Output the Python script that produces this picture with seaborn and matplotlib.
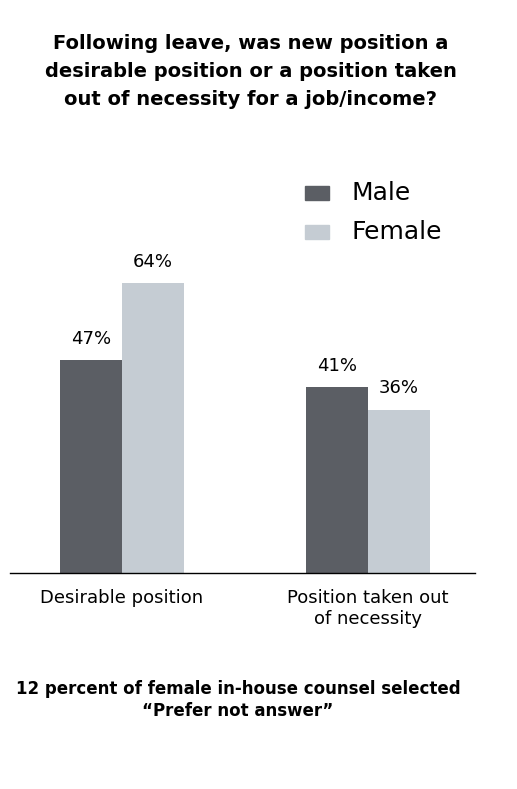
import pandas as pd
import matplotlib
matplotlib.use('Agg')
import matplotlib.pyplot as plt
import seaborn as sns

categories = ["Desirable position", "Position taken out\nof necessity"]
male = [47, 41]
female = [64, 36]
genders = ["Male", "Female"]
colors = ["#5b5e64", "#c5ccd3"]

df = pd.DataFrame({
    "cat": categories * 2,
    "gender": ["Male"] * 2 + ["Female"] * 2,
    "pct": male + female,
})

sns.set_theme(style="white")
plt.rcParams['font.family'] = ['Liberation Sans Narrow', 'DejaVu Sans']
plt.rcParams['text.color'] = 'black'
plt.rcParams['xtick.color'] = 'black'

fig = plt.figure(figsize=(5.17, 7.89), dpi=100)
ax = fig.add_axes([0.019, 0.274, 0.9, 0.536])
sns.barplot(data=df, x="cat", y="pct", hue="gender", palette=colors,
            width=0.504, saturation=1, ax=ax, legend=False, linewidth=0)
ax.set_xlim(-0.455, 1.435)
ax.set_ylim(0, 93.4)
for s in ["top", "right", "left"]:
    ax.spines[s].set_visible(False)
ax.spines["bottom"].set_color("black")
ax.spines["bottom"].set_linewidth(1)
ax.set_yticks([])
ax.set_xlabel("")
ax.set_ylabel("")
ax.tick_params(axis="x", length=0, pad=12, labelsize=13, labelcolor="black")
for c in ax.containers:
    ax.bar_label(c, labels=[f"{v:.0f}%" for v in c.datavalues], padding=9,
                 fontsize=13, color="black")

# legend
for i, (g, col) in enumerate(zip(genders, colors)):
    y = 0.755 - i * 0.049
    fig.patches.append(plt.Rectangle((0.59, y - 0.009), 0.046, 0.018, color=col,
                                     transform=fig.transFigure))
    fig.text(0.68, y, g, fontsize=18, va="center", color="black")

fig.text(0.485, 0.91, "Following leave, was new position a\ndesirable position or a position taken\nout of necessity for a job/income?",
         ha="center", va="center", fontsize=14, fontweight="bold", linespacing=1.6,
         color="black")
fig.text(0.46, 0.113, "12 percent of female in-house counsel selected\n\u201cPrefer not answer\u201d",
         ha="center", va="center", fontsize=12, fontweight="bold", linespacing=1.25,
         color="black")

fig.savefig("out.png", dpi=100)
